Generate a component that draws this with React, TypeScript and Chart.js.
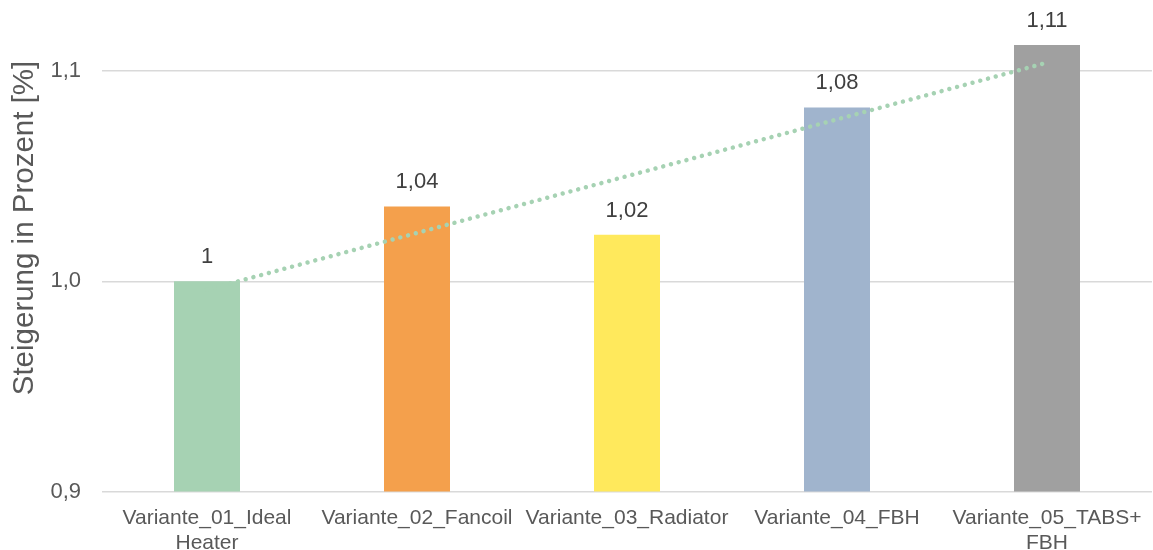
import React, { useEffect, useRef } from "react";
import { Chart, registerables } from "chart.js";

Chart.register(...registerables);

// Heating variants compared against the ideal heater
const categories: (string | string[])[] = [
  ["Variante_01_Ideal", "Heater"],
  "Variante_02_Fancoil",
  "Variante_03_Radiator",
  "Variante_04_FBH",
  ["Variante_05_TABS+", "FBH"],
];
const increaseValues = [1.0, 1.0356, 1.0221, 1.0827, 1.1124];
const barColors = ["#A6D2B3", "#F4A04C", "#FFE95C", "#A0B4CD", "#A0A0A0"];
// linear trend line, start and end values
const trendValues: (number | null)[] = [0.996, null, null, null, 1.104];
const yTickValues = [0.9, 1.0, 1.1];
const axisTitle = "Steigerung in Prozent [%]";

const FONT = "'Liberation Sans', Arial, sans-serif";

const formatValue = (v: number) => String(Number(v.toFixed(2))).replace(".", ",");

const valueLabels = {
  id: "valueLabels",
  afterDatasetsDraw(chart: Chart) {
    const ctx = chart.ctx;
    const idx = chart.data.datasets.findIndex((d: any) => d.type === "bar");
    const meta = chart.getDatasetMeta(idx);
    ctx.save();
    ctx.font = `22px ${FONT}`;
    ctx.fillStyle = "#404040";
    ctx.textAlign = "center";
    ctx.textBaseline = "middle";
    meta.data.forEach((el: any, i: number) => {
      const v = chart.data.datasets[idx].data[i] as number;
      ctx.fillText(formatValue(v), el.x, el.y - 24);
    });
    ctx.restore();
  },
};

const sideTitle = {
  id: "sideTitle",
  afterDraw(chart: Chart) {
    const ctx = chart.ctx;
    ctx.save();
    ctx.translate(25, 228);
    ctx.rotate(-Math.PI / 2);
    ctx.font = `29.5px ${FONT}`;
    ctx.fillStyle = "#595959";
    ctx.textAlign = "center";
    ctx.textBaseline = "middle";
    ctx.fillText(axisTitle, 0, 0);
    ctx.restore();
  },
};

export default function App() {
  const canvasRef = useRef<HTMLCanvasElement>(null);

  useEffect(() => {
    if (!canvasRef.current) return;
    const chart = new Chart(canvasRef.current, {
      type: "bar",
      data: {
        labels: categories,
        datasets: [
          {
            type: "line",
            data: trendValues,
            borderColor: "#A6D2B3",
            borderWidth: 4.5,
            borderDash: [0.01, 8],
            borderCapStyle: "round",
            pointRadius: 0,
            spanGaps: true,
            fill: false,
            order: 0,
          } as any,
          {
            type: "bar",
            data: increaseValues,
            backgroundColor: barColors,
            barPercentage: 66 / 210,
            categoryPercentage: 1,
            order: 1,
          },
        ],
      },
      options: {
        responsive: false,
        animation: false,
        layout: { padding: { top: 29, right: 1, left: 0, bottom: 0 } },
        plugins: {
          legend: { display: false },
          tooltip: { enabled: false },
        },
        scales: {
          x: {
            grid: { display: false },
            border: { display: false },
            ticks: {
              color: "#595959",
              font: { family: FONT, size: 21, lineHeight: 1.2 },
              padding: 6,
              maxRotation: 0,
              autoSkip: false,
            },
            afterFit(scale: any) {
              scale.height = 58.5;
              scale.paddingLeft = 0;
              scale.paddingRight = 0;
            },
          },
          y: {
            min: 0.9,
            max: 1.12,
            grid: { color: "#D9D9D9", lineWidth: 1.5, drawTicks: false },
            border: { display: false },
            ticks: {
              color: "#595959",
              font: { family: FONT, size: 22 },
              padding: 21,
              callback: (v: any) => Number(v).toFixed(1).replace(".", ","),
            },
            afterBuildTicks(scale: any) {
              scale.ticks = yTickValues.map((value) => ({ value }));
            },
            afterFit(scale: any) {
              scale.width = 102;
              scale.paddingTop = 0;
              scale.paddingBottom = 0;
            },
          },
        },
      },
      plugins: [valueLabels, sideTitle],
    });
    return () => chart.destroy();
  }, []);

  return (
    <div style={{ position: "fixed", left: 0, top: 0, width: 1153, height: 550, background: "#fff" }}>
      <canvas ref={canvasRef} width={1153} height={550} />
    </div>
  );
}
